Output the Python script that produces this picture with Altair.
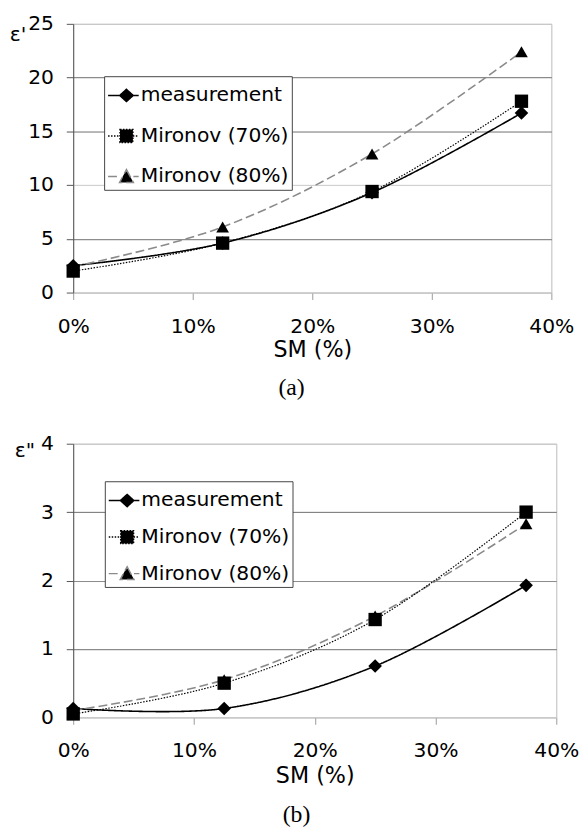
import altair as alt
import pandas as pd

# ---- data ----
sm = [0, 12.5, 25, 37.5]
series_names = ["measurement", "Mironov (70%)", "Mironov (80%)"]

# (a) real part
er_meas = [2.5, 4.6, 9.3, 16.7]
er_m70 = [2.0, 4.6, 9.4, 17.8]
er_m80 = [2.4, 6.1, 12.9, 22.4]

# (b) imaginary part
ei_meas = [0.13, 0.13, 0.75, 1.93]
ei_m70 = [0.05, 0.50, 1.43, 3.00]
ei_m80 = [0.10, 0.55, 1.48, 2.83]

x_ticks = [0, 10, 20, 30, 40]
yr_ticks = [0, 5, 10, 15, 20, 25]
yi_ticks = [0, 1, 2, 3, 4]

FONT = "DejaVu Sans"
SERIF = "Liberation Serif"
FS = 20.5

# legend symbols: line segment + marker (unit coords, 1 unit = sqrt(size)/2 px)
PATH_DIAMOND = "M-1,0H-0.24M0.64,0H1M0.2,-0.4L0.64,0L0.2,0.4L-0.24,0Z"
PATH_SQUARE = "M-1,0H-0.22M0.62,0H1M-0.22,-0.42H0.62V0.42H-0.22Z"
PATH_TRIANGLE = "M-1,0H-0.25M0.65,0H1M0.2,-0.45L0.65,0.39L-0.25,0.39Z"
DASHES = [[1, 0], [1.5, 1.5], [9, 4]]
STROKES = ["black", "black", "#8a8a8a"]


def frame(meas, m70, m80):
    rows = []
    for name, vals in [("measurement", meas), ("Mironov (80%)", m80), ("Mironov (70%)", m70)]:
        for xv, v in zip(sm, vals):
            rows.append({"sm": xv, "eps": v, "series": name})
    return pd.DataFrame(rows)


def panel(df, ymax, yticks, ytitle, caption, width, height, grid_color,
          ytitle_x, ytitle_y, xtitle_y, legend_x, legend_y, row_pad, cap_offset, pad_spaces):
    x = alt.X(
        "sm:Q",
        scale=alt.Scale(domain=[0, 40], nice=False),
        axis=alt.Axis(
            values=x_ticks, labelExpr="datum.value + '%'", title="SM (%)", grid=False,
            domainColor="#c8c8c8", tickColor="#9a9a9a", tickSize=7, labelPadding=17,
            labelFlush=False, labelFont=FONT, labelFontSize=FS, labelColor="black",
            titleFont=FONT, titleFontSize=22.5, titleFontWeight="normal", titleColor="black",
            titleY=xtitle_y, titleBaseline="alphabetic",
        ),
    )
    y = alt.Y(
        "eps:Q",
        scale=alt.Scale(domain=[0, ymax], nice=False),
        axis=alt.Axis(
            values=yticks, title=ytitle, titleAngle=0, titleX=ytitle_x, titleY=ytitle_y,
            titleAlign="left", titleBaseline="alphabetic", titleFont=FONT, titleFontSize=FS,
            titleFontWeight="normal", titleColor="black",
            grid=True, gridColor=grid_color, gridOpacity=1, gridWidth=1,
            domainColor="#555555", tickColor="#555555", tickSize=7, labelPadding=13,
            labelFont=FONT, labelFontSize=FS, labelColor="black",
        ),
    )
    base = alt.Chart(df)
    legend = alt.Legend(
        title=None, orient="none", legendX=legend_x, legendY=legend_y,
        symbolSize=961, symbolStrokeWidth=1.5, symbolStrokeColor="black",
        symbolFillColor="black", symbolOpacity=1,
        labelFont=FONT, labelFontSize=FS, labelColor="black", labelOffset=1,
        labelLimit=400, labelExpr="datum.label + '" + " " * pad_spaces + "'",
        padding=3, rowPadding=row_pad, strokeColor="#444444", fillColor="white",
    )
    lines = base.mark_line(interpolate="cardinal").encode(
        x=x,
        y=y,
        strokeDash=alt.StrokeDash(
            "series:N", scale=alt.Scale(domain=series_names, range=DASHES), legend=None,
        ),
        color=alt.condition(alt.datum.series == "Mironov (80%)", alt.value("#8a8a8a"), alt.value("black")),
        strokeWidth=alt.condition(alt.datum.series == "Mironov (70%)", alt.value(1.2), alt.value(1.6)),
    )
    points = base.mark_point(filled=True, opacity=1, strokeWidth=0).encode(
        x=x,
        y=y,
        shape=alt.Shape(
            "series:N",
            scale=alt.Scale(domain=series_names, range=["diamond", "square", "triangle-up"]),
            legend=None,
        ),
        size={
            "condition": [
                {"test": "datum.series === 'measurement'", "value": 190},
                {"test": "datum.series === 'Mironov (70%)'", "value": 182},
            ],
            "value": 165,
        },
        color=alt.value("black"),
    )
    # legend-only layer (no rows): symbols combine line style and marker
    key = base.transform_filter("false").mark_point(filled=True, fill="black", opacity=1).encode(
        x=x,
        y=y,
        shape=alt.Shape(
            "series:N",
            scale=alt.Scale(domain=series_names, range=[PATH_DIAMOND, PATH_SQUARE, PATH_TRIANGLE]),
            legend=legend,
        ),
        strokeDash=alt.StrokeDash(
            "series:N", scale=alt.Scale(domain=series_names, range=DASHES), legend=legend,
        ),
        stroke=alt.Stroke(
            "series:N", scale=alt.Scale(domain=series_names, range=STROKES), legend=legend,
        ),
    )
    return alt.layer(lines, points, key).resolve_scale(
        shape="independent", strokeDash="independent", stroke="independent"
    ).properties(
        width=width,
        height=height,
        title=alt.Title(
            caption, orient="bottom", frame="bounds", anchor="middle", font=SERIF,
            fontSize=24, fontWeight="normal", color="black", offset=cap_offset,
        ),
    )


grid_a = {
    "condition": [
        {"test": "datum.value == 10 || datum.value == 25 || datum.value == 0", "value": "#c8c8c8"},
    ],
    "value": "#6e6e6e",
}
grid_b = {
    "condition": [
        {"test": "datum.value == 4 || datum.value == 0", "value": "#c8c8c8"},
        {"test": "datum.value == 2", "value": "#8a8a8a"},
    ],
    "value": "#6e6e6e",
}

top = panel(frame(er_meas, er_m70, er_m80), 25, yr_ticks, "ε'", "(a)", 484, 272, grid_a,
            -64.7, 16.7, 65, 31.3, 53, 14, 15, 3)
bottom = panel(frame(ei_meas, ei_m70, ei_m80), 4, yi_ticks, 'ε"', "(b)", 489, 277, grid_b,
               -59.7, 13.4, 66, 32, 38, 10, 16, 4)

chart = alt.vconcat(top, bottom, spacing=33, padding=0).configure_view(stroke="#bbbbbb")

chart.save("out.html", embed_options={"renderer": "svg", "actions": False})
